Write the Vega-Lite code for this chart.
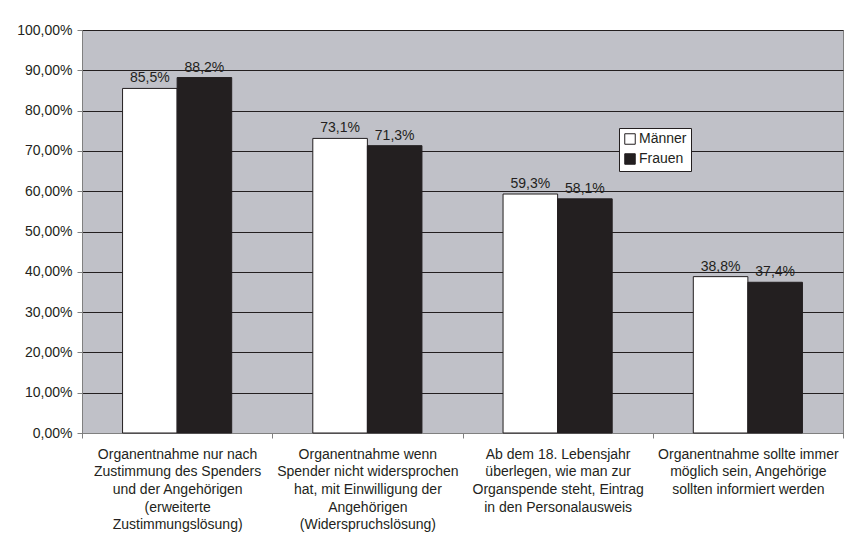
{
  "$schema": "https://vega.github.io/schema/vega-lite/v6.json",
  "width": 761,
  "height": 403,
  "autosize": {"type": "none"},
  "padding": {"left": 82, "top": 30, "right": 10, "bottom": 121},
  "background": "white",
  "config": {
    "locale": {"number": {"decimal": ",", "thousands": ".", "grouping": [3], "currency": ["", " €"]}},
    "font": "Liberation Sans",
    "view": {"fill": "#c0c1c8", "stroke": "#808080", "strokeWidth": 1},
    "axis": {"labelFont": "Liberation Sans", "labelFontSize": 14, "labelColor": "#231f20", "domainColor": "#808080", "tickColor": "#808080", "tickSize": 5}
  },
  "data": {
    "values": [
      {"kategorie": "Organentnahme nur nach|Zustimmung des Spenders|und der Angehörigen|(erweiterte|Zustimmungslösung)", "geschlecht": "Männer", "anteil": 0.855},
      {"kategorie": "Organentnahme nur nach|Zustimmung des Spenders|und der Angehörigen|(erweiterte|Zustimmungslösung)", "geschlecht": "Frauen", "anteil": 0.882},
      {"kategorie": "Organentnahme wenn|Spender nicht widersprochen|hat, mit Einwilligung der|Angehörigen|(Widerspruchslösung)", "geschlecht": "Männer", "anteil": 0.731},
      {"kategorie": "Organentnahme wenn|Spender nicht widersprochen|hat, mit Einwilligung der|Angehörigen|(Widerspruchslösung)", "geschlecht": "Frauen", "anteil": 0.713},
      {"kategorie": "Ab dem 18. Lebensjahr|überlegen, wie man zur|Organspende steht, Eintrag|in den Personalausweis", "geschlecht": "Männer", "anteil": 0.593},
      {"kategorie": "Ab dem 18. Lebensjahr|überlegen, wie man zur|Organspende steht, Eintrag|in den Personalausweis", "geschlecht": "Frauen", "anteil": 0.581},
      {"kategorie": "Organentnahme sollte immer|möglich sein, Angehörige|sollten informiert werden", "geschlecht": "Männer", "anteil": 0.388},
      {"kategorie": "Organentnahme sollte immer|möglich sein, Angehörige|sollten informiert werden", "geschlecht": "Frauen", "anteil": 0.374}
    ]
  },
  "encoding": {
    "x": {
      "field": "kategorie", "type": "nominal", "sort": null,
      "scale": {"paddingInner": 0, "paddingOuter": 0},
      "axis": {"title": null, "labelAngle": 0, "tickBand": "extent", "grid": false, "labelExpr": "split(datum.label, '|')", "labelLineHeight": 17.7, "labelPadding": 9, "labelBaseline": "top", "labelLimit": 300}
    },
    "xOffset": {"field": "geschlecht", "type": "nominal", "sort": ["Männer", "Frauen"], "scale": {"paddingOuter": 0.743, "paddingInner": 0}},
    "y": {
      "field": "anteil", "type": "quantitative",
      "scale": {"domain": [0, 1]},
      "axis": {"title": null, "format": ".2%", "values": [0, 0.1, 0.2, 0.3, 0.4, 0.5, 0.6, 0.7, 0.8, 0.9, 1], "grid": true, "gridColor": "#231f20", "gridWidth": 1, "labelPadding": 5}
    }
  },
  "layer": [
    {
      "mark": {"type": "bar", "stroke": "#231f20", "strokeWidth": 1},
      "encoding": {
        "color": {
          "field": "geschlecht", "type": "nominal",
          "scale": {"domain": ["Männer", "Frauen"], "range": ["#ffffff", "#231f20"]},
          "legend": {"orient": "none", "legendX": 537, "legendY": 98, "title": null, "fillColor": "white", "strokeColor": "#231f20", "padding": 4, "symbolType": "square", "symbolSize": 110, "symbolStrokeColor": "#231f20", "symbolStrokeWidth": 1, "labelFontSize": 14, "labelColor": "#231f20", "rowPadding": 4, "labelOffset": 2}
        }
      }
    },
    {
      "mark": {"type": "text", "baseline": "bottom", "dy": -3, "fontSize": 14, "color": "#231f20"},
      "encoding": {"text": {"field": "anteil", "type": "quantitative", "format": ".1%"}}
    }
  ]
}
